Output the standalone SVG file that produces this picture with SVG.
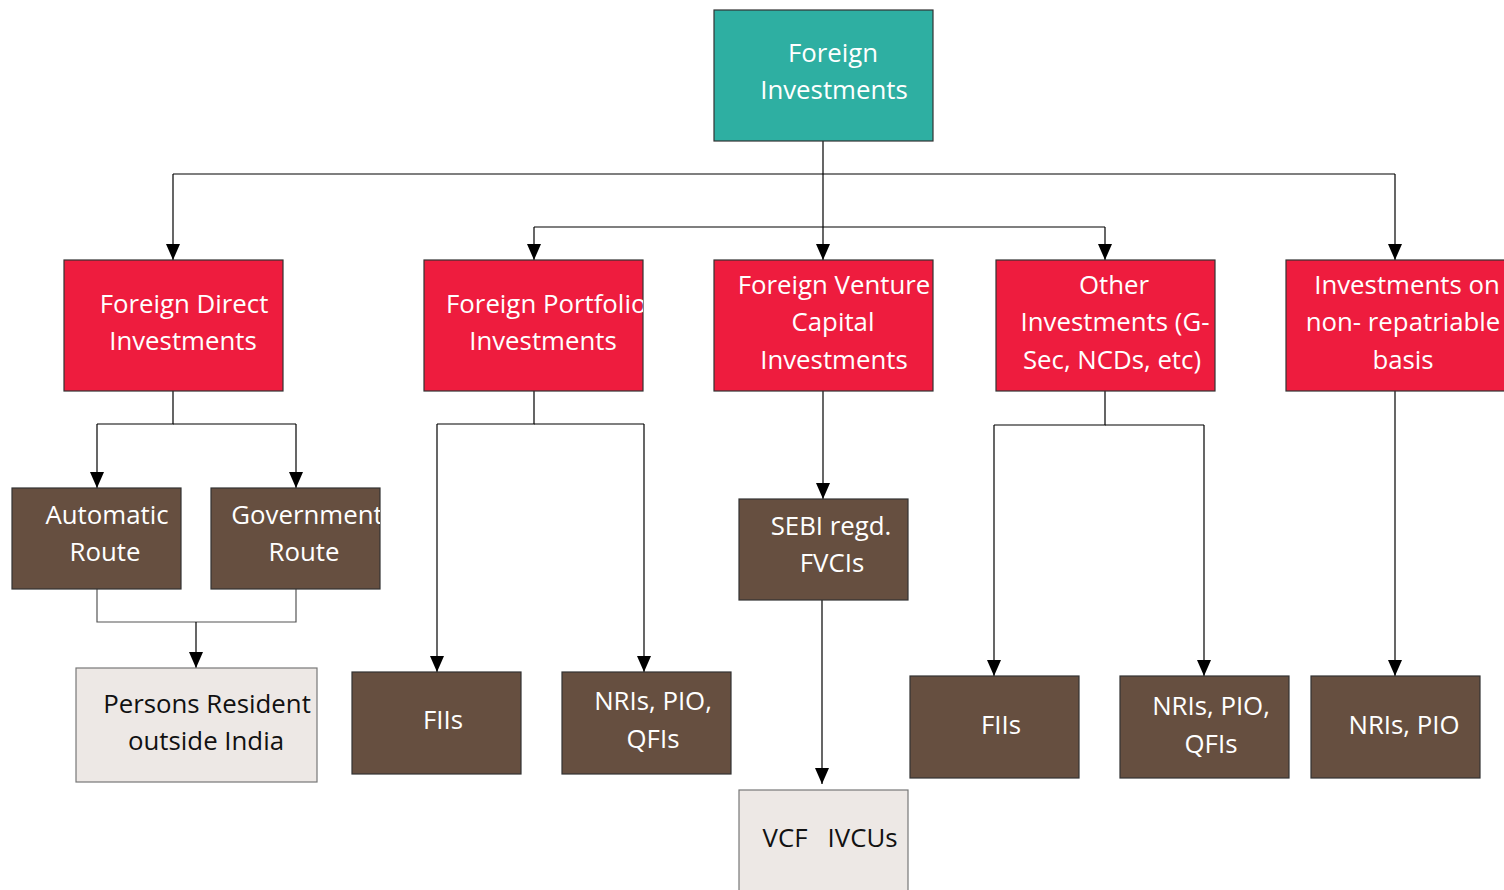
<svg xmlns="http://www.w3.org/2000/svg" width="1504" height="890" viewBox="0 0 1504 890">
<style>
.teal{fill:#2EAFA2;stroke:#333;stroke-width:1.2}
.red{fill:#EE1C3E;stroke:#333;stroke-width:1.2}
.brown{fill:#664F40;stroke:#333;stroke-width:1.2}
.light{fill:#EDE8E5;stroke:#777;stroke-width:1.2}
text{font-family:"Open Sans","DejaVu Sans",sans-serif;font-size:25.8px;text-anchor:middle;white-space:pre}
.w{fill:#ffffff}
.k{fill:#111111}
.ln{fill:none;stroke:#000;stroke-width:1.2}
.gl{fill:none;stroke:#555;stroke-width:1.2}
</style>
<defs>
<marker id="ah" markerWidth="16" markerHeight="14" refX="16" refY="7" orient="auto" markerUnits="userSpaceOnUse" viewBox="0 0 16 14">
<path d="M0,0 L16,7 L0,14 Z" fill="#000"/>
</marker>
<clipPath id="cFPI"><rect x="424" y="260" width="219" height="131"/></clipPath>
<clipPath id="cGov"><rect x="211" y="488" width="169" height="101"/></clipPath>
</defs>
<g id="connectors">
<path class="ln" d="M823,141 V260" marker-end="url(#ah)"/>
<path class="ln" d="M173,174 H1395"/>
<path class="ln" d="M173,174 V260" marker-end="url(#ah)"/>
<path class="ln" d="M1395,174 V260" marker-end="url(#ah)"/>
<path class="ln" d="M534,227 H1105"/>
<path class="ln" d="M534,227 V260" marker-end="url(#ah)"/>
<path class="ln" d="M1105,227 V260" marker-end="url(#ah)"/>
<path class="ln" d="M173,391 V424 H97"/>
<path class="ln" d="M173,424 H296"/>
<path class="ln" d="M97,424 V488" marker-end="url(#ah)"/>
<path class="ln" d="M296,424 V488" marker-end="url(#ah)"/>
<path class="gl" d="M97,589 V622 H296 V589"/>
<path class="ln" d="M196,622 V668" marker-end="url(#ah)"/>
<path class="ln" d="M534,391 V424 H437"/>
<path class="ln" d="M534,424 H644"/>
<path class="ln" d="M437,424 V672" marker-end="url(#ah)"/>
<path class="ln" d="M644,424 V672" marker-end="url(#ah)"/>
<path class="ln" d="M823,391 V499" marker-end="url(#ah)"/>
<path class="ln" d="M822,600 V784" marker-end="url(#ah)"/>
<path class="ln" d="M1105,391 V425 H994"/>
<path class="ln" d="M1105,425 H1204"/>
<path class="ln" d="M994,425 V676" marker-end="url(#ah)"/>
<path class="ln" d="M1204,425 V676" marker-end="url(#ah)"/>
<path class="ln" d="M1395,391 V676" marker-end="url(#ah)"/>
</g>
<g id="n-foreign-investments">
<rect class="teal" x="714" y="10" width="219" height="131"/>
<text class="w" x="833" y="62">Foreign</text>
<text class="w" x="834" y="99">Investments</text>
</g>
<g id="n-fdi">
<rect class="red" x="64" y="260" width="219" height="131"/>
<text class="w" x="184" y="313">Foreign Direct</text>
<text class="w" x="183" y="350">Investments</text>
</g>
<g id="n-fpi">
<rect class="red" x="424" y="260" width="219" height="131"/>
<g clip-path="url(#cFPI)">
<text class="w" x="446" y="313" style="text-anchor:start">Foreign Portfolio</text>
</g>
<text class="w" x="543" y="350">Investments</text>
</g>
<g id="n-fvci">
<rect class="red" x="714" y="260" width="219" height="131"/>
<text class="w" x="834" y="294">Foreign Venture</text>
<text class="w" x="833" y="331">Capital</text>
<text class="w" x="834" y="369">Investments</text>
</g>
<g id="n-other">
<rect class="red" x="996" y="260" width="219" height="131"/>
<text class="w" x="1114" y="294">Other</text>
<text class="w" x="1115" y="331">Investments (G-</text>
<text class="w" x="1112" y="369">Sec, NCDs, etc)</text>
</g>
<g id="n-nonrep">
<rect class="red" x="1286" y="260" width="230" height="131"/>
<text class="w" x="1407" y="294">Investments on</text>
<text class="w" x="1403" y="331">non- repatriable</text>
<text class="w" x="1403" y="369">basis</text>
</g>
<g id="n-automatic">
<rect class="brown" x="12" y="488" width="169" height="101"/>
<text class="w" x="107" y="524">Automatic</text>
<text class="w" x="105" y="561">Route</text>
</g>
<g id="n-government">
<rect class="brown" x="211" y="488" width="169" height="101"/>
<g clip-path="url(#cGov)">
<text class="w" x="307" y="524">Government</text>
</g>
<text class="w" x="304" y="561">Route</text>
</g>
<g id="n-persons">
<rect class="light" x="76" y="668" width="241" height="114"/>
<text class="k" x="207" y="713">Persons Resident</text>
<text class="k" x="206" y="750">outside India</text>
</g>
<g id="n-fiis-1">
<rect class="brown" x="352" y="672" width="169" height="102"/>
<text class="w" x="443" y="729">FIIs</text>
</g>
<g id="n-nris-1">
<rect class="brown" x="562" y="672" width="169" height="102"/>
<text class="w" x="653" y="710">NRIs, PIO,</text>
<text class="w" x="653" y="748">QFIs</text>
</g>
<g id="n-sebi">
<rect class="brown" x="739" y="499" width="169" height="101"/>
<text class="w" x="831" y="535">SEBI regd.</text>
<text class="w" x="832" y="572">FVCIs</text>
</g>
<g id="n-vcf">
<rect class="light" x="739" y="790" width="169" height="110"/>
<text class="k" x="830" y="847">VCF   IVCUs</text>
</g>
<g id="n-fiis-2">
<rect class="brown" x="910" y="676" width="169" height="102"/>
<text class="w" x="1001" y="734">FIIs</text>
</g>
<g id="n-nris-2">
<rect class="brown" x="1120" y="676" width="169" height="102"/>
<text class="w" x="1211" y="715">NRIs, PIO,</text>
<text class="w" x="1211" y="753">QFIs</text>
</g>
<g id="n-nris-3">
<rect class="brown" x="1311" y="676" width="169" height="102"/>
<text class="w" x="1404" y="734">NRIs, PIO</text>
</g>
</svg>
